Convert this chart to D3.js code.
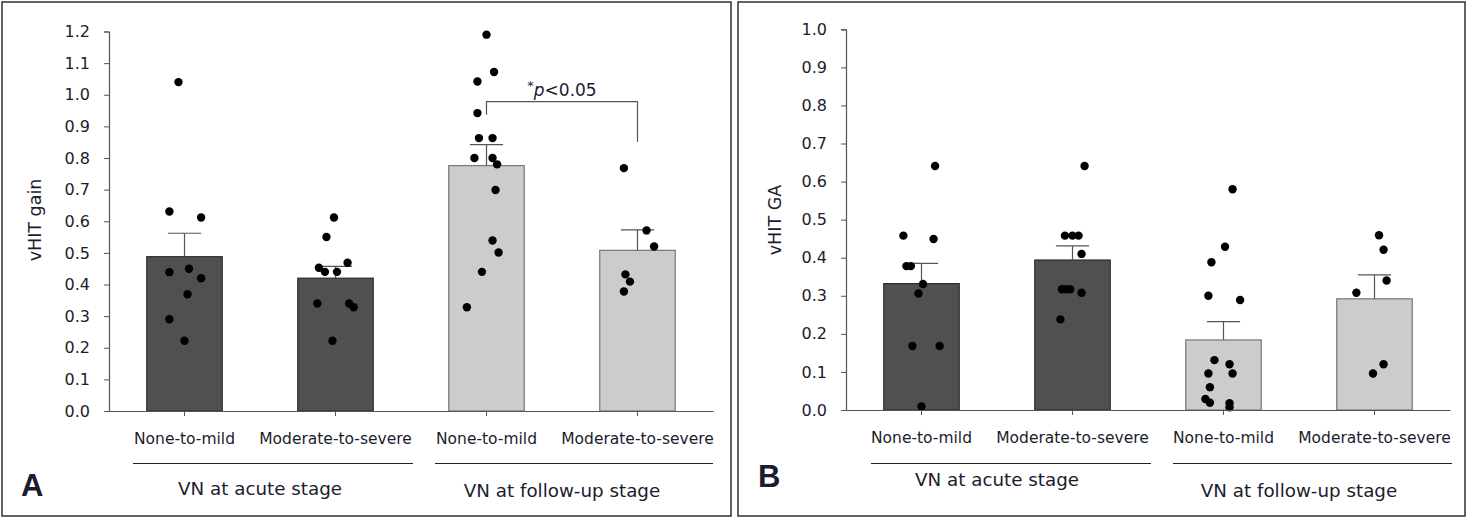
<!DOCTYPE html>
<html><head><meta charset="utf-8">
<script src="https://cdn.jsdelivr.net/npm/d3@7"></script>
<style>body{margin:0;background:#fff}svg{display:block}text{font-family:"DejaVu Sans",sans-serif;fill:#1c1c2e}</style>
</head><body><svg id="c" width="1471" height="520"></svg>
<script>
const categories = ["None-to-mild","Moderate-to-severe","None-to-mild","Moderate-to-severe"];
const groups = ["VN at acute stage","VN at follow-up stage"];
const barFill = ["#505050","#505050","#cccccc","#cccccc"];
const barStroke = ["#2e2e2e","#2e2e2e","#777777","#777777"];

// Panel A: vHIT gain
const ticksA = [0,0.1,0.2,0.3,0.4,0.5,0.6,0.7,0.8,0.9,1.0,1.1,1.2];
const meanA = [0.488,0.420,0.776,0.508];
const errA  = [0.562,0.457,0.842,0.573];
// dot values per group and horizontal jitter (fraction of band)
const dotsA0 = [1.04,0.631,0.612,0.439,0.450,0.420,0.369,0.290,0.222];
const jitA0  = [-0.04,-0.10,0.11,-0.10,0.03,0.11,0.02,-0.10,0.00];
const dotsA1 = [0.612,0.550,0.469,0.453,0.440,0.440,0.340,0.340,0.328,0.222];
const jitA1  = [-0.01,-0.06,0.08,-0.11,-0.07,0.01,-0.12,0.09,0.12,-0.02];
const dotsA2 = [1.19,1.072,1.042,0.942,0.863,0.863,0.800,0.800,0.780,0.699,0.539,0.501,0.440,0.328];
const jitA2  = [0.00,0.05,-0.06,-0.06,-0.05,0.04,-0.08,0.04,0.07,0.06,0.04,0.08,-0.03,-0.13];
const dotsA3 = [0.768,0.571,0.520,0.432,0.409,0.378];
const jitA3  = [-0.09,0.06,0.11,-0.08,-0.05,-0.09];

// Panel B: vHIT GA
const ticksB = [0,0.1,0.2,0.3,0.4,0.5,0.6,0.7,0.8,0.9,1.0];
const meanB = [0.332,0.394,0.184,0.292];
const errB  = [0.385,0.431,0.232,0.355];
const dotsB0 = [0.641,0.458,0.449,0.378,0.378,0.331,0.306,0.168,0.168,0.009];
const jitB0  = [0.09,-0.12,0.08,-0.10,-0.07,0.01,-0.02,-0.06,0.12,0.00];
const dotsB1 = [0.641,0.458,0.458,0.458,0.410,0.317,0.317,0.317,0.308,0.238];
const jitB1  = [0.08,-0.05,0.00,0.04,0.06,-0.07,-0.04,-0.015,0.06,-0.08];
const dotsB2 = [0.580,0.429,0.388,0.300,0.289,0.131,0.120,0.096,0.096,0.060,0.029,0.019,0.018,0.007];
const jitB2  = [0.06,0.01,-0.08,-0.10,0.11,-0.06,0.04,-0.10,0.06,-0.09,-0.12,-0.09,0.04,0.04];
const dotsB3 = [0.459,0.421,0.340,0.308,0.120,0.096];
const jitB3  = [0.03,0.06,0.08,-0.12,0.06,-0.01];

const svg = d3.select("#c");

function panel(o){
  const g = svg.append("g");
  g.append("rect").attr("x",o.box[0]).attr("y",o.box[1]).attr("width",o.box[2]).attr("height",o.box[3])
    .attr("fill","none").attr("stroke","#222").attr("stroke-width",1.4);
  const x = d3.scaleBand().domain(d3.range(4)).range([o.x0,o.x1]).paddingInner(0.5).paddingOuter(0.25);
  const y = d3.scaleLinear().domain([0,o.ymax]).range([o.y0,o.y1]);
  g.selectAll("rect.bar").data(o.mean).join("rect").attr("class","bar")
    .attr("x",(d,i)=>x(i)).attr("width",x.bandwidth()).attr("y",d=>y(d)).attr("height",d=>y(0)-y(d))
    .attr("fill",(d,i)=>barFill[i]).attr("stroke",(d,i)=>barStroke[i]).attr("stroke-width",1.2);
  const cx = i=>x(i)+x.bandwidth()/2;
  const capW = x.bandwidth()*0.22;
  o.err.forEach((e,i)=>{
    g.append("line").attr("x1",cx(i)).attr("x2",cx(i)).attr("y1",y(o.mean[i])).attr("y2",y(e)).attr("stroke","#555").attr("stroke-width",1.2);
    g.append("line").attr("x1",cx(i)-capW).attr("x2",cx(i)+capW).attr("y1",y(e)).attr("y2",y(e)).attr("stroke","#555").attr("stroke-width",1.2);
  });
  o.dots.forEach((arr,i)=>{
    g.selectAll(null).data(arr).join("circle")
      .attr("cx",(d,j)=>cx(i)+o.jit[i][j]*x.bandwidth()*2).attr("cy",d=>y(d)).attr("r",4.2).attr("fill","#000");
  });
  const ya = g.append("g").attr("transform",`translate(${o.x0},0)`)
    .call(d3.axisLeft(y).tickValues(o.ticks).tickFormat(d3.format(".1f")).tickSize(5).tickPadding(14));
  ya.select(".domain").attr("stroke","#555").attr("stroke-width",1.2);
  ya.selectAll(".tick line").attr("stroke","#555");
  ya.selectAll("text").style("font-size","16px").attr("fill","#1c1c2e");
  const xa = g.append("g").attr("transform",`translate(0,${o.y0})`)
    .call(d3.axisBottom(x).tickSize(5).tickSizeOuter(0).tickFormat(i=>categories[i]).tickPadding(17));
  xa.select(".domain").attr("stroke","#555").attr("stroke-width",1.2);
  xa.selectAll(".tick line").attr("stroke","#555");
  xa.selectAll("text").style("font-size","15.5px").attr("fill","#1c1c2e");
  o.groupLines.forEach((gl,k)=>{
    g.append("line").attr("x1",gl[0]).attr("x2",gl[1]).attr("y1",463.5).attr("y2",463.5).attr("stroke","#222").attr("stroke-width",1.2);
    g.append("text").attr("x",(cx(2*k)+cx(2*k+1))/2).attr("y",o.groupY[k]).attr("text-anchor","middle")
      .style("font-size","18.3px").text(groups[k]);
  });
  g.append("text").attr("transform",`translate(${o.ylabX},220) rotate(-90)`).attr("text-anchor","middle")
    .style("font-size","17.5px").text(o.ylab);
  g.append("text").attr("x",o.letter[0]).attr("y",o.letter[1]).style("font-size","31px").style("font-weight","bold")
    .style("font-family","'Liberation Sans',Arial,sans-serif").attr("fill","#111").text(o.letterText);
  return {g,x,y,cx};
}

const A = panel({box:[2,2,729,514],x0:109,x1:713,y0:411,y1:31.5,ymax:1.2,ticks:ticksA,mean:meanA,err:errA,
  dots:[dotsA0,dotsA1,dotsA2,dotsA3],jit:[jitA0,jitA1,jitA2,jitA3],
  groupLines:[[133,413],[435,713]],groupY:[495,497],ylab:"vHIT gain",ylabX:41,letter:[21,496],letterText:"A"});

const by = 101.7;
A.g.append("path").attr("d",`M${A.cx(2)},${by+13}V${by}H${A.cx(3)}V${by+40}`).attr("fill","none").attr("stroke","#555").attr("stroke-width",1.2);
const st = A.g.append("text").attr("x",(A.cx(2)+A.cx(3))/2).attr("y",by-6).attr("text-anchor","middle").style("font-size","17px");
st.append("tspan").attr("dy","-6").style("font-size","13px").text("*");
st.append("tspan").attr("dy","6").style("font-style","italic").text("p");
st.append("tspan").text("<0.05");

panel({box:[738,2,727,514],x0:846,x1:1450,y0:410,y1:29.3,ymax:1.0,ticks:ticksB,mean:meanB,err:errB,
  dots:[dotsB0,dotsB1,dotsB2,dotsB3],jit:[jitB0,jitB1,jitB2,jitB3],
  groupLines:[[871,1151],[1173,1452]],groupY:[486,497],ylab:"vHIT GA",ylabX:781,letter:[758,487],letterText:"B"});
</script></body></html>
